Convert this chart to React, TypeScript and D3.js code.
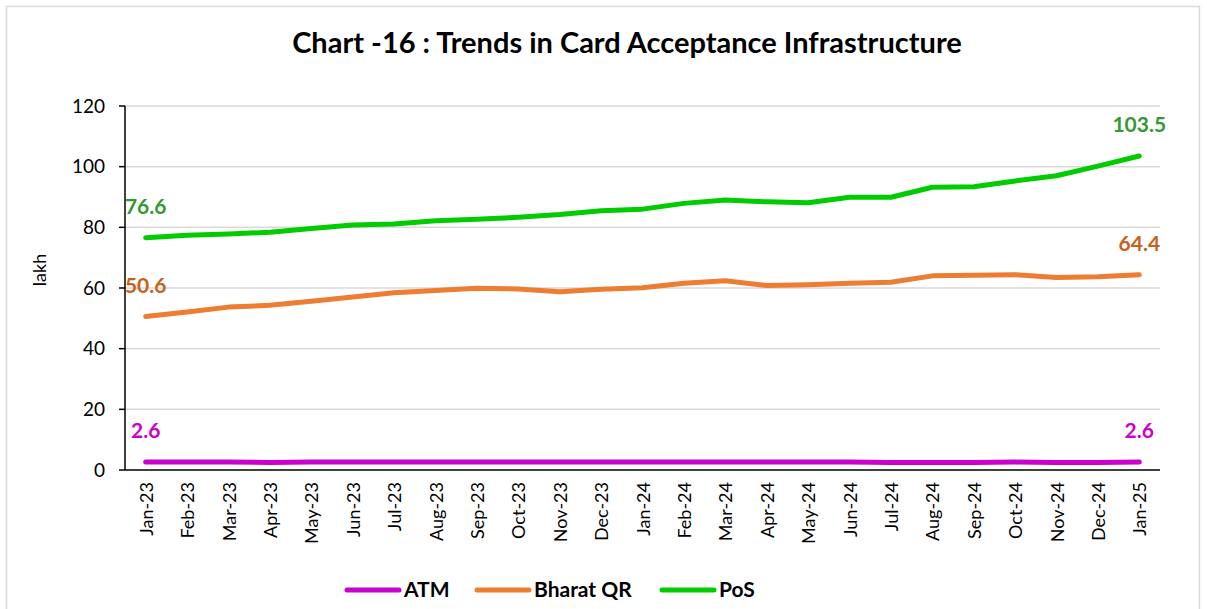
import * as d3 from 'd3'
import React from 'react'

const months = [
  'Jan-23', 'Feb-23', 'Mar-23', 'Apr-23', 'May-23', 'Jun-23', 'Jul-23', 'Aug-23', 'Sep-23',
  'Oct-23', 'Nov-23', 'Dec-23', 'Jan-24', 'Feb-24', 'Mar-24', 'Apr-24', 'May-24', 'Jun-24',
  'Jul-24', 'Aug-24', 'Sep-24', 'Oct-24', 'Nov-24', 'Dec-24', 'Jan-25'
]

const atm = [
  2.6, 2.6, 2.6, 2.5, 2.6, 2.6, 2.6, 2.6, 2.6, 2.6, 2.6, 2.6, 2.6,
  2.6, 2.6, 2.6, 2.6, 2.6, 2.5, 2.5, 2.5, 2.6, 2.5, 2.5, 2.6
]
const bharatQr = [
  50.6, 52.1, 53.7, 54.3, 55.6, 57.0, 58.4, 59.2, 59.9, 59.7, 58.8, 59.6, 60.1,
  61.6, 62.4, 60.8, 61.1, 61.6, 61.9, 64.0, 64.2, 64.4, 63.5, 63.7, 64.4
]
const pos = [
  76.6, 77.4, 77.8, 78.4, 79.6, 80.8, 81.1, 82.2, 82.7, 83.3, 84.2, 85.5, 86.0,
  87.9, 89.0, 88.4, 88.1, 89.9, 89.9, 93.2, 93.4, 95.3, 97.0, 100.2, 103.5
]
const yTicks = [0, 20, 40, 60, 80, 100, 120]

const series = [
  { name: 'ATM', values: atm, line: '#cc00cc', label: '#cc00cc' },
  { name: 'Bharat QR', values: bharatQr, line: '#ed7d31', label: '#c5621b' },
  { name: 'PoS', values: pos, line: '#00cc00', label: '#339933' }
]

const font = 'Lato, "Open Sans", sans-serif'

export default function App() {
  const W = 1207
  const H = 609
  const left = 125
  const right = 1160
  const top = 106
  const bottom = 470

  const x = d3.scaleBand().domain(months).range([left, right])
  const y = d3.scaleLinear().domain([0, 120]).range([bottom, top])
  const cx = (m: string) => (x(m) ?? 0) + x.bandwidth() / 2

  const line = d3
    .line<number>()
    .x((_, i) => cx(months[i]))
    .y(d => y(d))

  const legendX = [347, 477, 662]

  return (
    <svg
      width={W}
      height={H}
      style={{ position: 'absolute', left: 0, top: 0, fontFamily: font }}
    >
      <rect x={0} y={0} width={W} height={H} fill="#fff" />
      <rect x={6.5} y={6.5} width={1193} height={620} fill="none" stroke="#d9d9d9" strokeWidth={1.5} />

      <text x={627} y={53} textAnchor="middle" fontSize={29} fontWeight="bold" fill="#000">
        Chart -16 : Trends in Card Acceptance Infrastructure
      </text>

      {/* grid */}
      {yTicks.map(t => (
        <g key={t}>
          {t > 0 && (
            <line x1={left} x2={right} y1={y(t)} y2={y(t)} stroke="#d9d9d9" strokeWidth={1.5} />
          )}
          <line x1={left - 6} x2={left} y1={y(t)} y2={y(t)} stroke="#000" strokeWidth={1.5} />
          <text x={105} y={y(t)} dy="0.35em" textAnchor="end" fontSize={19} fill="#000">
            {t}
          </text>
        </g>
      ))}

      <line x1={left} x2={left} y1={top} y2={bottom} stroke="#000" strokeWidth={1.5} />
      <line x1={left} x2={right} y1={bottom} y2={bottom} stroke="#000" strokeWidth={1.5} />

      <text
        transform="translate(46,270) rotate(-90)"
        textAnchor="middle"
        fontSize={18}
        fill="#000"
      >
        lakh
      </text>

      {months.map(m => (
        <text
          key={m}
          transform={`translate(${cx(m) + 7},${bottom + 12}) rotate(-90)`}
          textAnchor="end"
          fontSize={18}
          fill="#000"
        >
          {m}
        </text>
      ))}

      {series.map(s => (
        <path
          key={s.name}
          d={line(s.values) ?? ''}
          fill="none"
          stroke={s.line}
          strokeWidth={5}
          strokeLinejoin="round"
          strokeLinecap="round"
        />
      ))}

      {/* end labels */}
      {series.map(s => {
        const first = s.values[0]
        const last = s.values[s.values.length - 1]
        const x0 = cx(months[0])
        const x1 = cx(months[months.length - 1])
        return (
          <g key={s.name} fontSize={21} fontWeight="bold" fill={s.label}>
            <text x={x0} y={y(first) - 24} textAnchor="middle">
              {first.toFixed(1)}
            </text>
            <text x={x1} y={y(last) - 24} textAnchor="middle">
              {last.toFixed(1)}
            </text>
          </g>
        )
      })}

      {/* legend */}
      {series.map((s, i) => (
        <g key={s.name}>
          <line
            x1={legendX[i]}
            x2={legendX[i] + 52}
            y1={590}
            y2={590}
            stroke={s.line}
            strokeWidth={5}
            strokeLinecap="round"
          />
          <text x={legendX[i] + 57} y={597} fontSize={21} fontWeight="bold" fill="#000">
            {s.name}
          </text>
        </g>
      ))}
    </svg>
  )
}
